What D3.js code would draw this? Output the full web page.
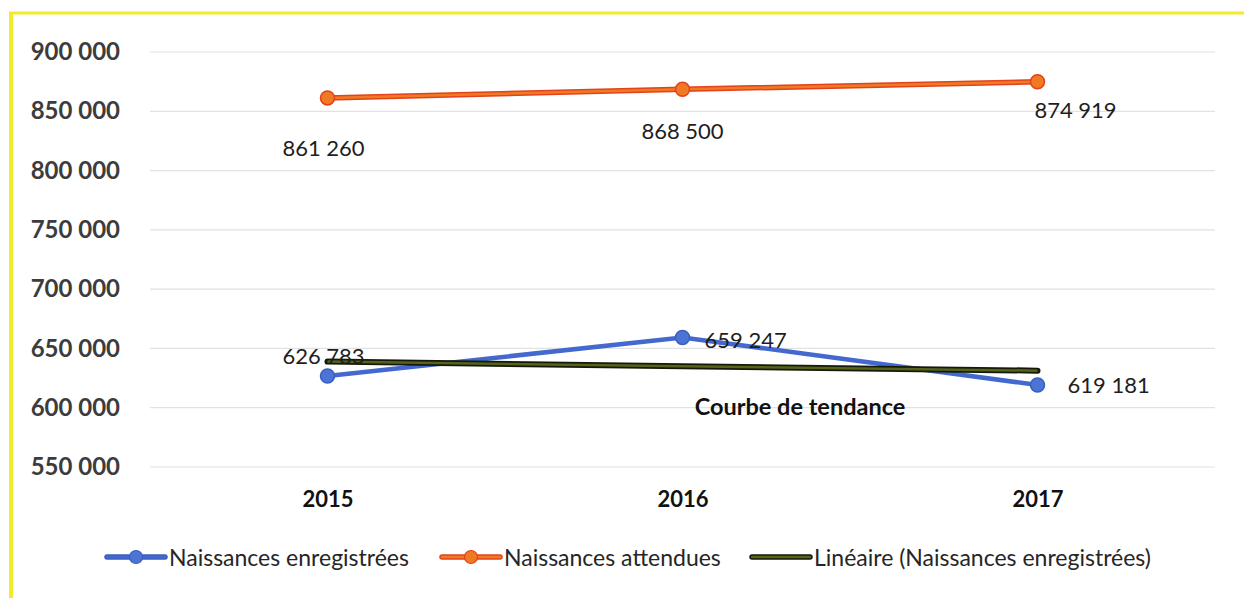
<!DOCTYPE html>
<html>
<head>
<meta charset="utf-8">
<script src="https://cdn.jsdelivr.net/npm/d3@7"></script>
<style>
  body { margin: 0; background: #fff; }
  svg { display: block; font-family: Lato, "Open Sans", sans-serif; }
</style>
</head>
<body>
<div id="chart"></div>
<script>
// Data
const years = ["2015", "2016", "2017"];
const recorded = [626783, 659247, 619181];
const expected = [861260, 868500, 874919];
const yTicks = [550000, 600000, 650000, 700000, 750000, 800000, 850000, 900000];
const seriesNames = ["Naissances enregistrées", "Naissances attendues", "Linéaire (Naissances enregistrées)"];

// label offsets relative to the point (layout only)
const expectedLabelOffsets = [[-4, 50], [0, 41], [38, 28]];
const recordedLabelOffsets = [[-4, -20], [22, 2], [30, 0]];

const W = 1244, H = 598;
const fmt = v => d3.format(",")(v).replace(/,/g, " ");

const svg = d3.select("#chart").append("svg")
    .attr("width", W)
    .attr("height", H);

// yellow scan border (top and left)
svg.append("rect").attr("x", 0).attr("y", 0).attr("width", W).attr("height", H).attr("fill", "#fff");
svg.append("line").attr("x1", 9).attr("x2", W).attr("y1", 13).attr("y2", 13)
    .attr("stroke", "#f2ea2a").attr("stroke-width", 3);
svg.append("line").attr("x1", 11).attr("x2", 11).attr("y1", 12).attr("y2", H)
    .attr("stroke", "#f2ea2a").attr("stroke-width", 4);

const x = d3.scalePoint().domain(years).range([150, 1215]).padding(0.5);
const y = d3.scaleLinear().domain([550000, 900000]).range([467, 52]);

// gridlines
svg.append("g")
    .selectAll("line")
    .data(yTicks)
    .join("line")
    .attr("x1", 150).attr("x2", 1215)
    .attr("y1", d => y(d)).attr("y2", d => y(d))
    .attr("stroke", "#e2e2e2").attr("stroke-width", 1.2);

// y-axis labels
const yAxis = svg.append("g")
    .attr("transform", "translate(150,0)")
    .call(d3.axisLeft(y).tickValues(yTicks).tickFormat(fmt).tickSize(0).tickPadding(30));
yAxis.select(".domain").remove();
yAxis.selectAll("text")
    .style("font-family", "Lato, sans-serif")
    .style("font-size", "24px")
    .style("font-weight", "bold")
    .attr("fill", "#3c3c3c");

// x-axis labels
const xAxis = svg.append("g")
    .attr("transform", "translate(0,467)")
    .call(d3.axisBottom(x).tickSize(0).tickPadding(24));
xAxis.select(".domain").remove();
xAxis.selectAll("text")
    .style("font-family", "Lato, sans-serif")
    .style("font-size", "22px")
    .style("font-weight", "bold")
    .attr("fill", "#111");

const line = d3.line()
    .x((d, i) => x(years[i]))
    .y(d => y(d));

// expected births (orange)
svg.append("path").datum(expected).attr("d", line)
    .attr("fill", "none").attr("stroke", "#e2431c").attr("stroke-width", 5.5);
svg.append("path").datum(expected).attr("d", line)
    .attr("fill", "none").attr("stroke", "#f07a24").attr("stroke-width", 2.5);
svg.append("g").selectAll("circle").data(expected).join("circle")
    .attr("cx", (d, i) => x(years[i])).attr("cy", d => y(d)).attr("r", 7)
    .attr("fill", "#f07a24").attr("stroke", "#e2431c").attr("stroke-width", 1.5);

// recorded births (blue)
svg.append("path").datum(recorded).attr("d", line)
    .attr("fill", "none").attr("stroke", "#4369cf").attr("stroke-width", 4.5);
svg.append("g").selectAll("circle").data(recorded).join("circle")
    .attr("cx", (d, i) => x(years[i])).attr("cy", d => y(d)).attr("r", 7)
    .attr("fill", "#4c74d4").attr("stroke", "#3a5fc0").attr("stroke-width", 1.5);

// linear trend of recorded births (least squares)
const xs = recorded.map((d, i) => i);
const mx = d3.mean(xs), my = d3.mean(recorded);
const slope = d3.sum(xs, (xi, i) => (xi - mx) * (recorded[i] - my)) / d3.sum(xs, xi => (xi - mx) ** 2);
const trend = xs.map(xi => my + slope * (xi - mx));
svg.append("path").datum(trend).attr("d", line)
    .attr("fill", "none").attr("stroke", "#151a08").attr("stroke-width", 6).attr("stroke-linecap", "round");
svg.append("path").datum(trend).attr("d", line)
    .attr("fill", "none").attr("stroke", "#55631c").attr("stroke-width", 2.5);

// data labels
const labelStyle = sel => sel
    .attr("font-size", 22)
    .attr("fill", "#1e1e1e")
    .attr("dominant-baseline", "central");

svg.append("g").selectAll("text").data(expected).join("text")
    .attr("x", (d, i) => x(years[i]) + expectedLabelOffsets[i][0])
    .attr("y", (d, i) => y(d) + expectedLabelOffsets[i][1])
    .attr("text-anchor", "middle")
    .text(fmt)
    .call(labelStyle);

svg.append("g").selectAll("text").data(recorded).join("text")
    .attr("x", (d, i) => x(years[i]) + recordedLabelOffsets[i][0])
    .attr("y", (d, i) => y(d) + recordedLabelOffsets[i][1])
    .attr("text-anchor", (d, i) => i === 0 ? "middle" : "start")
    .text(fmt)
    .call(labelStyle);

svg.append("text")
    .attr("x", 800).attr("y", 406)
    .attr("text-anchor", "middle")
    .attr("dominant-baseline", "central")
    .attr("font-size", 23.5)
    .attr("font-weight", "bold")
    .attr("fill", "#111")
    .text("Courbe de tendance");

// legend
const legendItems = [
    { name: seriesNames[0], x: 107, stroke: "#4369cf", fill: "#4c74d4", edge: "#3a5fc0", marker: true },
    { name: seriesNames[1], x: 442, stroke: "#f07a24", fill: "#f07a24", edge: "#e2431c", marker: true },
    { name: seriesNames[2], x: 752, stroke: "#55631c", fill: null, edge: "#151a08", marker: false }
];
const legend = svg.append("g").attr("transform", "translate(0,557)");
legendItems.forEach(it => {
    legend.append("line")
        .attr("x1", it.x).attr("x2", it.x + 58).attr("y1", 0).attr("y2", 0)
        .attr("stroke", it.edge).attr("stroke-width", 5.5).attr("stroke-linecap", "round");
    legend.append("line")
        .attr("x1", it.x).attr("x2", it.x + 58).attr("y1", 0).attr("y2", 0)
        .attr("stroke", it.stroke).attr("stroke-width", 2.5).attr("stroke-linecap", "round");
    if (it.marker) {
        legend.append("circle")
            .attr("cx", it.x + 29).attr("cy", 0).attr("r", 6.5)
            .attr("fill", it.fill).attr("stroke", it.edge).attr("stroke-width", 1.2);
    }
    legend.append("text")
        .attr("x", it.x + 62).attr("y", 0)
        .attr("dominant-baseline", "central")
        .attr("font-size", 23)
        .attr("fill", "#262626")
        .text(it.name);
});
</script>
</body>
</html>
